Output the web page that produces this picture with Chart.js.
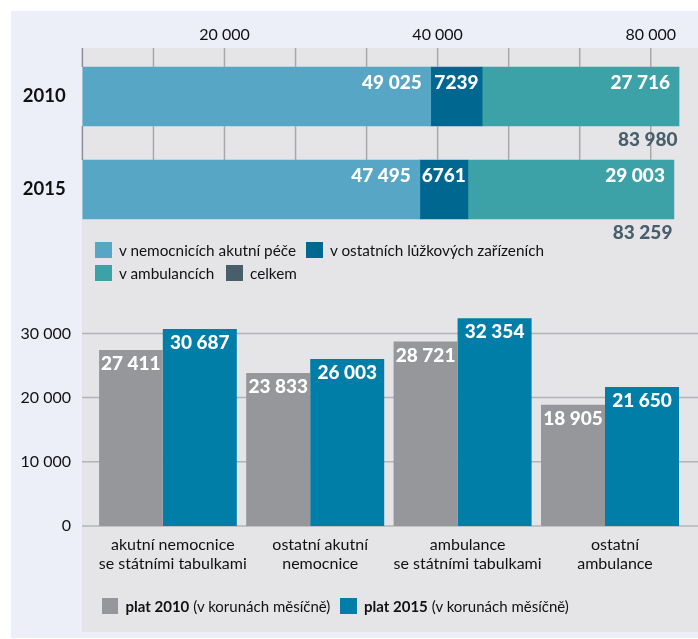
<!DOCTYPE html>
<html lang="cs">
<head>
<meta charset="utf-8">
<title>Platy ve zdravotnictví 2010 a 2015</title>
<script src="https://cdn.jsdelivr.net/npm/chart.js@4.4.1/dist/chart.umd.min.js"></script>
<style>
  html, body { margin: 0; padding: 0; background: #fff; }
  body { width: 698px; height: 639px; position: relative; overflow: hidden; font-family: Lato, sans-serif; color: #111; }
  .panel-blue { position: absolute; left: 11px; top: 11px; right: 0; bottom: 1px; background: #eceef8; }
  .panel-grey { position: absolute; left: 82px; top: 48px; right: 0; bottom: 7px; background: #e5e5e8; }
  canvas { position: absolute; left: 0; }
  #topChart { top: 0; }
  #bottomChart { top: 290px; }
  .legend-item { position: absolute; height: 18px; display: flex; align-items: center; font-size: 15.3px; white-space: nowrap; }
  .legend-item .box { width: 16.5px; height: 16px; margin-right: 7.5px; }
  .legend-item.small { font-size: 15px; }
  .legend-item b { font-weight: 700; margin-right: 4px; }
</style>
</head>
<body>
<div class="panel-blue"></div>
<div class="panel-grey"></div>

<canvas id="topChart" width="698" height="250"></canvas>

<div class="legend-item" style="left:95px; top:241px;"><span class="box" style="background:#57a6c5"></span>v nemocnicích akutní péče</div>
<div class="legend-item" style="left:306px; top:241px;"><span class="box" style="background:#006890"></span>v ostatních lůžkových zařízeních</div>
<div class="legend-item" style="left:95px; top:264px;"><span class="box" style="background:#3ca2a8"></span>v ambulancích</div>
<div class="legend-item" style="left:226px; top:264px;"><span class="box" style="background:#475e6b"></span>celkem</div>

<canvas id="bottomChart" width="698" height="349"></canvas>

<div class="legend-item small" style="left:101.5px; top:597px;"><span class="box" style="background:#96979b"></span><b>plat 2010</b>(v korunách měsíčně)</div>
<div class="legend-item small" style="left:340px; top:597px;"><span class="box" style="background:#007ea7"></span><b>plat 2015</b>(v korunách měsíčně)</div>

<script>
// horní graf - mzdové náklady podle typu zařízení
const years = ['2010', '2015'];
const acuteCare = [49025, 47495];
const otherBeds = [7239, 6761];
const outpatient = [27716, 29003];
const totals = [83980, 83259];
const topGridValues = [0, 10000, 20000, 30000, 40000, 50000, 60000, 70000, 80000];
const topTickValues = [20000, 50000, 80000];
const topTickLabels = ['20 000', '40 000', '80 000'];

// dolní graf - průměrný plat
const facilityTypes = [
    ['akutní nemocnice', 'se státními tabulkami'],
    ['ostatní akutní', 'nemocnice'],
    ['ambulance', 'se státními tabulkami'],
    ['ostatní', 'ambulance']
];
const salary2010 = [27411, 23833, 28721, 18905];
const salary2015 = [30687, 26003, 32354, 21650];
const bottomTickValues = [0, 10000, 20000, 30000];

const valueFont = '900 19px Lato';
const gridColor = '#b3b4b7';
const topBarThickness = 59;

function fmt(v) {
    const s = String(v);
    if (v < 10000) return s;
    return s.replace(/\B(?=(\d{3})+(?!\d))/g, ' ');
}

// chart.js pridava ticks.padding i do okraju plochy grafu, tady to nechceme
function noPadding(scale) {
    scale.paddingTop = 0;
    scale.paddingBottom = 0;
    scale.paddingLeft = 0;
    scale.paddingRight = 0;
}

function setTicks(values) {
    return function(scale) {
        scale.ticks = values.map(v => ({ value: v }));
    };
}

// svisle cary jen mimo sloupce: nad 2010, mezi 2010 a 2015
function drawTopGrid(chart) {
    const ctx = chart.ctx;
    const x = chart.scales.x;
    const y = chart.scales.y;
    const half = topBarThickness / 2;
    const segments = [
        [48, y.getPixelForValue(0) - half],
        [y.getPixelForValue(0) + half, y.getPixelForValue(1) - half]
    ];
    ctx.save();
    ctx.lineWidth = 1.5;
    topGridValues.forEach(v => {
        const px = x.getPixelForValue(v);
        ctx.strokeStyle = v === 0 ? '#8e8f93' : '#a7a8ac';
        segments.forEach(([a, b]) => {
            ctx.beginPath();
            ctx.moveTo(px, a);
            ctx.lineTo(px, b);
            ctx.stroke();
        });
    });
    ctx.restore();
}

const topLabels = {
    id: 'topLabels',
    afterDatasetsDraw(chart) {
        drawTopGrid(chart);
        const ctx = chart.ctx;
        ctx.save();
        ctx.font = valueFont;
        ctx.textBaseline = 'middle';
        ctx.fillStyle = '#fff';
        chart.data.datasets.forEach((ds, di) => {
            chart.getDatasetMeta(di).data.forEach((bar, i) => {
                const top = bar.y - topBarThickness / 2;
                if (di === 1) {
                    ctx.textAlign = 'center';
                    ctx.fillText(fmt(ds.data[i]), (bar.base + bar.x) / 2, top + 15.5);
                } else {
                    ctx.textAlign = 'right';
                    ctx.fillText(fmt(ds.data[i]), bar.x - 9, top + 15.5);
                }
            });
        });
        ctx.fillStyle = '#475e6b';
        ctx.textAlign = 'right';
        totals.forEach((v, i) => {
            const px = chart.scales.x.getPixelForValue(v);
            const py = chart.scales.y.getPixelForValue(i) + topBarThickness / 2;
            ctx.fillText(fmt(v), px - 1.5, py + 14);
        });
        ctx.restore();
    }
};

new Chart(document.getElementById('topChart'), {
    type: 'bar',
    data: {
        labels: years,
        datasets: [
            { label: 'v nemocnicích akutní péče', data: acuteCare, backgroundColor: '#57a6c5' },
            { label: 'v ostatních lůžkových zařízeních', data: otherBeds, backgroundColor: '#006890' },
            { label: 'v ambulancích', data: outpatient, backgroundColor: '#3ca2a8' }
        ]
    },
    options: {
        indexAxis: 'y',
        responsive: false,
        animation: false,
        layout: { padding: { bottom: 14 } },
        datasets: { bar: { barThickness: topBarThickness } },
        plugins: { legend: { display: false }, tooltip: { enabled: false } },
        scales: {
            x: {
                position: 'top',
                stacked: true,
                min: 0,
                max: 86650,
                grid: { display: false, drawTicks: false },
                border: { display: false },
                afterBuildTicks: setTicks(topGridValues),
                ticks: {
                    autoSkip: false,
                    maxRotation: 0,
                    padding: 5.4,
                    color: '#111',
                    font: { family: 'Lato', size: 16 },
                    callback: function(value) {
                        const k = topTickValues.indexOf(value);
                        return k < 0 ? '' : topTickLabels[k];
                    }
                },
                afterFit(scale) { scale.height = 50; noPadding(scale); }
            },
            y: {
                stacked: true,
                grid: { display: false, drawTicks: false },
                border: { display: false },
                ticks: {
                    padding: 16.7,
                    color: '#111',
                    font: { family: 'Lato', size: 18.5, weight: 'bold' }
                },
                afterFit(scale) { scale.width = 82.4; noPadding(scale); }
            }
        }
    },
    plugins: [topLabels]
});

const bottomGrid = {
    id: 'bottomGrid',
    beforeDatasetsDraw(chart) {
        const ctx = chart.ctx;
        const y = chart.scales.y;
        ctx.save();
        ctx.strokeStyle = gridColor;
        ctx.lineWidth = 1.5;
        bottomTickValues.forEach(v => {
            const py = y.getPixelForValue(v);
            ctx.beginPath();
            ctx.moveTo(82, py);
            ctx.lineTo(chart.width, py);
            ctx.stroke();
        });
        ctx.restore();
    }
};

const bottomLabels = {
    id: 'bottomLabels',
    afterDatasetsDraw(chart) {
        const ctx = chart.ctx;
        ctx.save();
        ctx.font = valueFont;
        ctx.textBaseline = 'middle';
        ctx.textAlign = 'center';
        ctx.fillStyle = '#fff';
        chart.data.datasets.forEach((ds, di) => {
            chart.getDatasetMeta(di).data.forEach((bar, i) => {
                ctx.fillText(fmt(ds.data[i]), bar.x, bar.y + 14);
            });
        });
        ctx.restore();
    }
};

new Chart(document.getElementById('bottomChart'), {
    type: 'bar',
    data: {
        labels: facilityTypes,
        datasets: [
            { label: 'plat 2010', data: salary2010, backgroundColor: '#96979b', categoryPercentage: 1.1398, barPercentage: 0.7619 },
            { label: 'plat 2015', data: salary2015, backgroundColor: '#007ea7', categoryPercentage: 0.7327, barPercentage: 1.3704 }
        ]
    },
    options: {
        responsive: false,
        animation: false,
        layout: { padding: { top: 11.3, right: 9.3 } },
        plugins: { legend: { display: false }, tooltip: { enabled: false } },
        scales: {
            x: {
                grid: { display: false, drawTicks: false },
                border: { display: false },
                ticks: {
                    padding: 10,
                    autoSkip: false,
                    maxRotation: 0,
                    color: '#111',
                    font: { family: 'Lato', size: 16, lineHeight: 1.15 }
                },
                afterFit(scale) { scale.height = 113; noPadding(scale); }
            },
            y: {
                min: 0,
                max: 35000,
                grid: { display: false, drawTicks: false },
                border: { display: false },
                afterBuildTicks: setTicks(bottomTickValues),
                ticks: {
                    padding: 28.1,
                    color: '#111',
                    font: { family: 'Lato', size: 16 },
                    callback: v => fmt(v)
                },
                afterFit(scale) { scale.width = 99.1; noPadding(scale); }
            }
        }
    },
    plugins: [bottomGrid, bottomLabels]
});
</script>
</body>
</html>
